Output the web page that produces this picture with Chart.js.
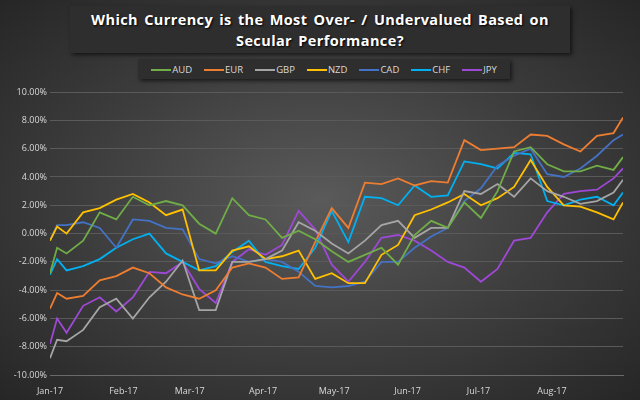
<!DOCTYPE html>
<html>
<head>
<meta charset="utf-8">
<script src="https://cdn.jsdelivr.net/npm/chart.js@4"></script>
<style>
  html, body { margin: 0; padding: 0; }
  body { width: 640px; height: 400px; overflow: hidden;
    background: radial-gradient(ellipse at 50% 50%, #5a5a5a 0%, #3c3c3c 55%, #262626 100%);
    font-family: "Open Sans", sans-serif; position: relative; }
  #title { position: absolute; left: 70px; top: 6px; width: 500px; height: 47px;
    background: #2e2e2e; box-shadow: 2px 2px 4px rgba(0,0,0,0.6);
    color: #fff; font-weight: bold; font-size: 14.5px; line-height: 21px; text-align: center;
    padding-top: 3px; box-sizing: border-box; letter-spacing: 0.4px; word-spacing: 2px;
    white-space: nowrap; text-shadow: 1px 1px 2px #000; }
  #legend { position: absolute; left: 138px; top: 59px; width: 372px; height: 20px;
    background: #2e2e2e; box-shadow: 2px 2px 4px rgba(0,0,0,0.6);
    display: flex; justify-content: center; align-items: center; gap: 12px;
    font-size: 9.5px; color: #d9d9d9; }
  #legend span i { display: inline-block; width: 20px; height: 2px; vertical-align: middle; margin-right: 1px; }
  canvas { position: absolute; left: 0; top: 0; }
</style>
</head>
<body>
<div id="title">Which Currency is the Most Over- / Undervalued Based on<br>Secular Performance?</div>
<div id="legend"></div>
<canvas id="c" width="640" height="400"></canvas>
<script>
// day of 2017 (0 = Jan 1)
const days = [0,3,7,14,21,28,35,42,49,56,63,70,77,84,91,98,105,112,119,126,133,140,147,154,161,168,175,182,189,196,203,210,217,224,231,238,242];
const monthDays = [0,31,59,90,120,151,181,212];
const monthLabels = ['Jan-17','Feb-17','Mar-17','Apr-17','May-17','Jun-17','Jul-17','Aug-17'];

const aud = [-2.8,-1.0,-1.4,-0.5,1.5,1.0,2.6,2.0,2.3,2.0,0.7,0.0,2.5,1.3,1.0,-0.3,0.2,-0.4,-1.25,-2.0,-1.5,-1.0,-2.2,-0.1,0.9,0.4,2.2,1.1,3.0,5.8,6.1,4.9,4.4,4.4,4.8,4.5,5.4];
const eur = [-5.3,-4.2,-4.6,-4.4,-3.3,-3.0,-2.4,-2.8,-3.8,-4.3,-4.6,-4.0,-2.4,-2.1,-2.4,-3.2,-3.1,-0.6,1.8,0.4,3.6,3.5,3.9,3.4,3.7,3.6,6.6,5.9,6.0,6.1,7.0,6.9,6.3,5.8,6.9,7.1,8.2];
const gbp = [-8.8,-7.5,-7.6,-6.8,-5.2,-4.6,-6.0,-4.5,-3.4,-1.9,-5.4,-5.4,-2.0,-2.0,-1.8,-1.2,0.8,0.2,-0.7,-1.4,-0.5,0.6,0.9,-0.3,0.4,0.4,3.0,2.8,3.5,2.6,3.9,3.0,2.6,2.1,2.3,2.9,3.8];
const nzd = [-0.5,0.5,0.0,1.5,1.8,2.4,2.8,2.2,1.3,1.7,-2.6,-2.6,-1.2,-0.9,-1.8,-1.6,-1.2,-3.2,-2.8,-3.5,-3.5,-1.5,-0.8,1.3,1.7,2.2,2.8,2.0,2.5,3.3,5.2,3.3,2.0,1.9,1.5,1.0,2.2];
const cad = [-0.5,0.6,0.6,0.8,0.4,-1.0,1.0,0.9,0.4,0.3,-1.8,-2.1,-1.6,-2.0,-1.8,-2.0,-2.7,-3.7,-3.8,-3.7,-3.4,-2.0,-2.0,-1.0,-0.2,0.4,2.3,3.2,4.8,5.5,6.0,4.2,4.0,4.6,5.5,6.6,7.0];
const chf = [-2.9,-1.8,-2.6,-2.3,-1.8,-1.0,-0.4,0.0,-1.4,-2.0,-2.6,-2.3,-1.3,-0.5,-2.0,-2.3,-2.5,-1.0,1.6,-0.6,2.6,2.5,2.0,3.4,2.6,2.7,5.1,4.9,4.6,5.7,5.6,2.3,2.0,2.4,2.6,2.0,2.9];
const jpy = [-7.8,-6.0,-7.0,-5.1,-4.5,-5.5,-4.5,-2.7,-2.8,-2.0,-3.9,-4.9,-2.0,-1.1,-1.5,-0.8,1.6,0.3,-2.2,-3.4,-2.0,-0.3,-0.1,-0.5,-1.2,-2.0,-2.4,-3.4,-2.5,-0.5,-0.3,1.5,2.8,3.0,3.1,3.9,4.6];

const series = [
  { name: 'AUD', values: aud, color: '#70AD47' },
  { name: 'EUR', values: eur, color: '#ED7D31' },
  { name: 'GBP', values: gbp, color: '#A5A5A5' },
  { name: 'NZD', values: nzd, color: '#FFC000' },
  { name: 'CAD', values: cad, color: '#4472C4' },
  { name: 'CHF', values: chf, color: '#00B0F0' },
  { name: 'JPY', values: jpy, color: '#9E48D6' },
];

document.getElementById('legend').innerHTML = series
  .map(s => `<span><i style="background:${s.color}"></i>${s.name}</span>`).join('');

new Chart(document.getElementById('c'), {
  type: 'line',
  data: {
    datasets: series.map(s => ({
      label: s.name,
      data: s.values.map((v, i) => ({ x: days[i], y: v })),
      borderColor: s.color,
      borderWidth: 1.8,
      pointRadius: 0,
      tension: 0,
    })),
  },
  options: {
    responsive: false,
    animation: false,
    layout: { padding: { top: 92, right: 17, bottom: 0, left: 0 } },
    plugins: { legend: { display: false }, tooltip: { enabled: false } },
    scales: {
      x: {
        type: 'linear',
        min: 0,
        max: 242,
        afterBuildTicks: (axis) => { axis.ticks = monthDays.map(v => ({ value: v })); },
        ticks: {
          color: '#d9d9d9',
          font: { family: 'Open Sans', size: 9 },
          maxRotation: 0,
          autoSkip: false,
          callback: (v) => monthLabels[monthDays.indexOf(v)],
        },
        grid: { display: false },
        border: { color: '#6a6a6a' },
      },
      y: {
        min: -10,
        max: 10,
        ticks: {
          stepSize: 2,
          color: '#d9d9d9',
          font: { family: 'Open Sans', size: 9 },
          callback: (v) => v.toFixed(2) + '%',
        },
        grid: { color: '#5a5a5a', drawTicks: false },
        border: { display: false },
        afterFit: (axis) => { axis.width = 50; },
      },
    },
  },
});
</script>
</body>
</html>
